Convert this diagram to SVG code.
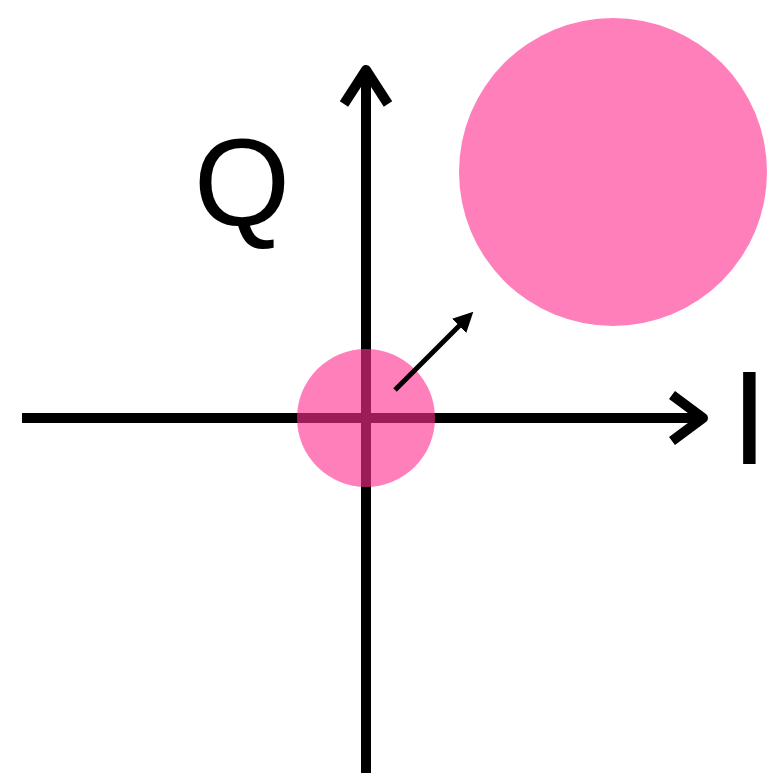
<svg xmlns="http://www.w3.org/2000/svg" width="769" height="773" viewBox="0 0 769 773">
<style>
.axis{stroke:#000;stroke-width:10;fill:none}
.head{stroke:#000;stroke-width:10;fill:none;stroke-linejoin:round;stroke-linecap:butt}
.blob{fill:#ff2e90;fill-opacity:0.61}
.lbl{font-family:"Liberation Sans",Arial,sans-serif;fill:#000}
</style>
<defs>
<marker id="tri" viewBox="0 0 10 10" refX="2" refY="5" markerWidth="4" markerHeight="4" orient="auto" markerUnits="strokeWidth">
<path d="M0,0 L10,5 L0,10 Z" fill="#000"/>
</marker>
</defs>
<rect width="769" height="773" fill="#fff"/>
<g id="connectors">
<line class="axis" x1="22" y1="418" x2="702" y2="418"/>
<polyline class="head" points="672,395 703,418 672,441"/>
<line class="axis" x1="366" y1="773" x2="366" y2="72"/>
<polyline class="head" points="344,104 366,70 388,104"/>
</g>
<g id="small-circle"><circle class="blob" cx="366" cy="418" r="69"/></g>
<g id="large-circle"><circle class="blob" cx="613" cy="172" r="154"/></g>
<g id="shift-arrow">
<line x1="395" y1="390" x2="462" y2="323" stroke="#000" stroke-width="5" marker-end="url(#tri)"/>
</g>
<g id="label-Q"><text class="lbl" x="242" y="225" font-size="124" text-anchor="middle">Q</text></g>
<g id="label-I"><text class="lbl" x="768" y="464" font-size="134" text-anchor="end">I</text></g>
</svg>
